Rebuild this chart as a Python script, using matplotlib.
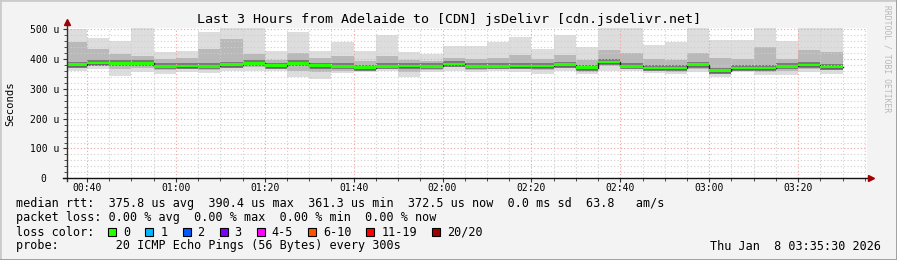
import matplotlib
matplotlib.use("Agg")
import matplotlib.pyplot as plt
from matplotlib.patches import Rectangle
from matplotlib.ticker import MultipleLocator, FuncFormatter

# 5 minute steps, end time of each step in minutes after midnight
step_end = [40 + 5 * i for i in range(35)]

# smoke envelope per step (microseconds)
smoke_top = [500, 470, 459, 504, 423, 426, 490, 504, 504, 428, 490, 428,
             456, 426, 479, 423, 417, 445, 442, 456, 475, 434, 479, 440,
             504, 504, 447, 456, 504, 464, 464, 504, 462, 504, 504]
smoke_upper = [457, 435, 417, 411, 400, 402, 434, 467, 417, 398, 420, 405,
               410, 395, 410, 398, 395, 405, 400, 405, 412, 400, 415, 398,
               430, 420, 400, 398, 420, 405, 400, 440, 400, 430, 425]
median_rtt = [381, 387, 385, 385, 375, 377, 375, 381, 385, 378, 385, 378,
              375, 371, 375, 377, 375, 384, 375, 375, 376, 376, 381, 371,
              390.4, 375, 370, 370, 381, 361.3, 370, 370, 375, 380, 372.5]
smoke_lower = [370, 375, 365, 370, 362, 365, 362, 370, 372, 368, 360, 355,
               360, 362, 365, 355, 363, 372, 363, 365, 365, 362, 370, 358,
               375, 365, 360, 358, 368, 350, 360, 358, 360, 368, 362]
smoke_bottom = [361, 368, 344, 356, 350, 356, 352, 361, 361, 361, 339, 333,
                353, 356, 361, 341, 356, 361, 356, 361, 356, 350, 361, 350,
                361, 361, 352, 350, 356, 341, 356, 348, 347, 356, 350]

loss_labels = ["0", "1", "2", "3", "4-5", "6-10", "11-19", "20/20"]
loss_colors = ["#26ff00", "#00b8ff", "#0059ff", "#7e00ff", "#ff00ff",
               "#ff5500", "#ff0000", "#a10000"]

W, H = 897, 260
MONO = "DejaVu Sans Mono"
BG = "#f3f3f3"
CHAR = 7.1  # legend character width in px


def fx(px):
    return px / W


def fy(py):
    return 1 - py / H


fig = plt.figure(figsize=(W / 100, H / 100), dpi=100, facecolor=BG)
ax = fig.add_axes([fx(67), fy(178.3), 800 / W, 150.3 / H])
ax.set_facecolor("white")
ax.set_xlim(35.5, 215.5)
ax.set_ylim(0, 504)

# smoke, outer to inner
for t, lo, hi in zip(step_end, smoke_bottom, smoke_top):
    ax.bar(t, hi - lo, width=-5, bottom=lo, align="edge", color="#dddddd", lw=0, zorder=1)
for t, lo, hi in zip(step_end, smoke_lower, smoke_upper):
    ax.bar(t, hi - lo, width=-5, bottom=lo, align="edge", color="#b9b9b9", lw=0, zorder=1)

# dark core round the median, then the median line and loss colour band
px_val = 504 / 150.3
for t, m in zip(step_end, median_rtt):
    ax.bar(t, 6 * px_val, width=-5, bottom=m - 3 * px_val, align="edge",
           color="#7a7a7a", lw=0, zorder=1.5)
edges = [step_end[0] - 5] + step_end
ax.step(edges, [median_rtt[0]] + median_rtt, where="pre", color="#202020", lw=1, zorder=3)
for t, m in zip(step_end, median_rtt):
    ax.bar(t, 2.5 * px_val, width=-5, bottom=m - 1.25 * px_val, align="edge",
           color=loss_colors[0], lw=0, zorder=4)

# grid
ax.xaxis.set_major_locator(MultipleLocator(20))
ax.xaxis.set_minor_locator(MultipleLocator(5))
ax.yaxis.set_major_locator(MultipleLocator(100))
ax.yaxis.set_minor_locator(MultipleLocator(20))
ax.set_axisbelow(False)
ax.grid(which="minor", color="#cfcfcf", ls=(0, (1, 2)), lw=0.8)
ax.grid(which="major", color="#f2a0a0", ls=(0, (1, 2)), lw=0.8)

ax.xaxis.set_major_formatter(FuncFormatter(lambda v, p: "%02d:%02d" % (v // 60, v % 60)))
ax.yaxis.set_major_formatter(FuncFormatter(lambda v, p: "%d u" % v if v else "0  "))
ax.tick_params(which="both", direction="out", color="#333333", labelsize=7)
ax.tick_params(which="major", length=3)
ax.tick_params(which="minor", length=2)
ax.tick_params(axis="y", pad=2.8)
ax.tick_params(axis="x", pad=0.5)
for lbl in ax.get_xticklabels() + ax.get_yticklabels():
    lbl.set_family(MONO)

for s in ax.spines.values():
    s.set_visible(False)
ax.plot([0, 0], [-0.02, 1.03], color="#333333", lw=1, transform=ax.transAxes, clip_on=False, zorder=5)
ax.plot([-0.005, 1.004], [0, 0], color="#111111", lw=1, transform=ax.transAxes, clip_on=False, zorder=5)
ax.plot([0], [1.04], marker="^", color="#a00000", ms=4, transform=ax.transAxes, clip_on=False, zorder=6)
ax.plot([1.005], [0], marker=">", color="#a00000", ms=4, transform=ax.transAxes, clip_on=False, zorder=6)

# texts
fig.text(0.5, fy(19), "Last 3 Hours from Adelaide to [CDN] jsDelivr [cdn.jsdelivr.net]",
         ha="center", va="center", family=MONO, fontsize=9.6)
fig.text(fx(10), fy(104), "Seconds", rotation=90, ha="center", va="center",
         family=MONO, fontsize=7.6)
fig.text(fx(887), fy(5), "RRDTOOL / TOBI OETIKER", rotation=270, ha="center", va="top",
         family=MONO, fontsize=5.8, color="#b8b8b8")

fs = 8.5
fig.text(fx(16), fy(204), "median rtt:  375.8 us avg  390.4 us max  361.3 us min  "
         "372.5 us now  0.0 ms sd  63.8   am/s", va="center", family=MONO, fontsize=fs)
fig.text(fx(16), fy(218), "packet loss: 0.00 % avg  0.00 % max  0.00 % min  0.00 % now",
         va="center", family=MONO, fontsize=fs)
fig.text(fx(16), fy(232), "loss color:", va="center", family=MONO, fontsize=fs)
bx = 108.3
for lab, col in zip(loss_labels, loss_colors):
    fig.patches.append(Rectangle((fx(bx), fy(236)), 8 / W, 8 / H, transform=fig.transFigure,
                                 facecolor=col, edgecolor="black", lw=0.8))
    fig.text(fx(bx + 15), fy(232), lab, va="center", family=MONO, fontsize=fs)
    bx += 30 + len(lab) * CHAR
fig.text(fx(16), fy(246), "probe:        20 ICMP Echo Pings (56 Bytes) every 300s",
         va="center", family=MONO, fontsize=fs)
fig.text(fx(881), fy(246), "Thu Jan  8 03:35:30 2026", ha="right", va="center",
         family=MONO, fontsize=fs)

# frame round the image
fig.add_artist(plt.Line2D([0, 0, 1], [0, 1, 1], transform=fig.transFigure, color="#cbcbcb", lw=2))
fig.add_artist(plt.Line2D([0, 1, 1], [0, 0, 1], transform=fig.transFigure, color="#999999", lw=2))

fig.savefig("out.png", dpi=100, facecolor=BG)
